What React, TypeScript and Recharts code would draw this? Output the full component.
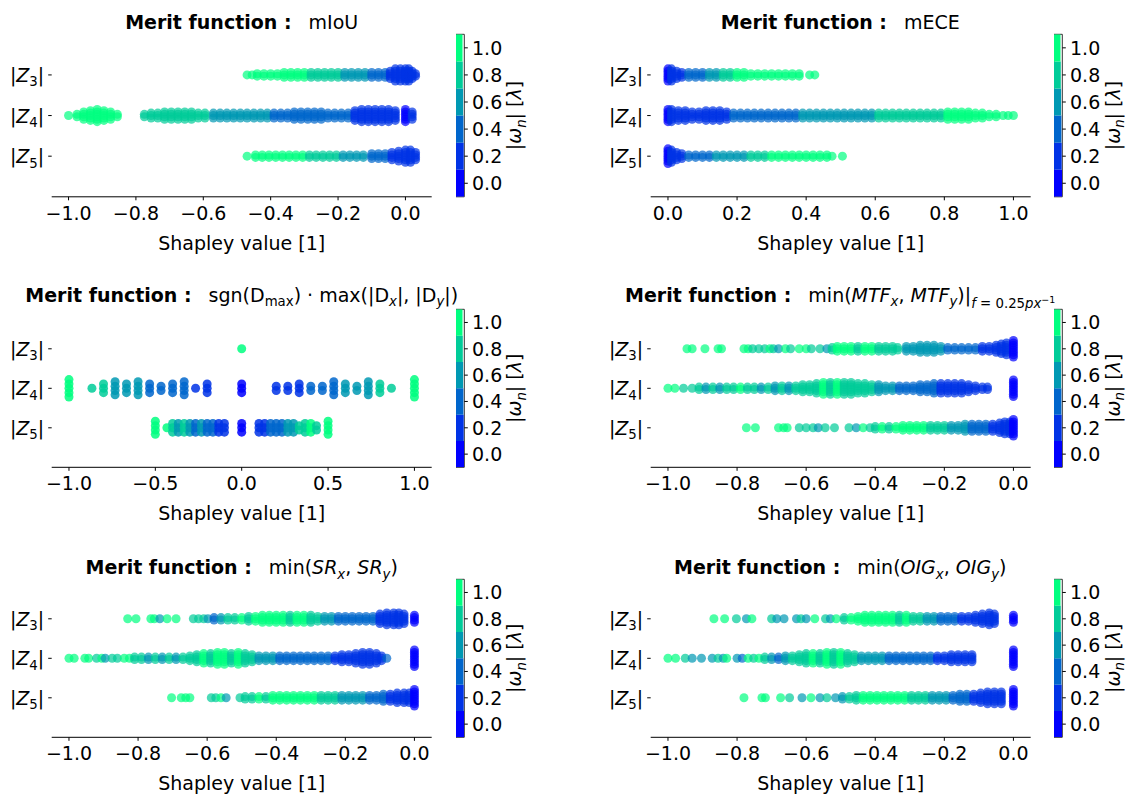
import React from "react";
import {
  ScatterChart,
  Scatter,
  BarChart,
  Bar,
  ReferenceArea,
  XAxis,
  YAxis,
} from "recharts";

// one bin = [shapley value, points stacked at that value, |omega_n| level]
type Bin = [number, number, number];

// winter colormap cut into 6 levels, as on the colorbars
const levelColors = ["#0000ff", "#0033e6", "#0066cc", "#0099b3", "#00cc99", "#00ff80"];
const levelBounds = [-0.1, 0.1, 0.3, 0.5, 0.7, 0.9, 1.1];
const cbarTicks = [0, 0.2, 0.4, 0.6, 0.8, 1.0];
const rowTicks = [0, 1, 2];
const rowIndex = ["5", "4", "3"];

const ticksNeg = [-1.0, -0.8, -0.6, -0.4, -0.2, 0.0];
const ticksPos = [0.0, 0.2, 0.4, 0.6, 0.8, 1.0];
const ticksSym = [-1.0, -0.5, 0.0, 0.5, 1.0];

// ---- mIoU
const miouZ3: Bin[] = [
  [-0.47, 1, 1], [-0.455, 1, 1], [-0.44, 2, 1], [-0.42, 2, 1], [-0.40, 2, 1], [-0.38, 2, 1],
  [-0.36, 3, 1], [-0.34, 3, 1], [-0.32, 3, 1], [-0.30, 3, 1], [-0.28, 3, 0.8], [-0.26, 3, 0.8],
  [-0.24, 3, 0.8], [-0.22, 3, 0.8], [-0.20, 3, 0.8], [-0.18, 3, 0.6], [-0.16, 3, 0.6], [-0.14, 3, 0.6],
  [-0.12, 3, 0.6], [-0.10, 3, 0.4], [-0.08, 3, 0.4], [-0.06, 3, 0.4], [-0.045, 4, 0.2], [-0.03, 6, 0.2],
  [-0.015, 6, 0.2], [0.0, 6, 0.2], [0.01, 6, 0.2], [0.02, 4, 0.2], [0.03, 2, 0.2],
];
const miouZ4: Bin[] = [
  [-1.0, 1, 1], [-0.975, 2, 1], [-0.955, 4, 1], [-0.935, 5, 1], [-0.915, 6, 1], [-0.895, 5, 1],
  [-0.875, 4, 1], [-0.855, 2, 1],
  [-0.775, 2, 0.8], [-0.755, 3, 0.8], [-0.735, 3, 0.8], [-0.715, 4, 0.8], [-0.695, 4, 0.8], [-0.675, 4, 0.8],
  [-0.655, 4, 0.8], [-0.635, 4, 0.8], [-0.615, 3, 0.8], [-0.595, 3, 0.8],
  [-0.57, 3, 0.6], [-0.55, 3, 0.6], [-0.53, 3, 0.6], [-0.51, 3, 0.6], [-0.49, 3, 0.6], [-0.47, 3, 0.6],
  [-0.45, 3, 0.6], [-0.43, 3, 0.6], [-0.41, 3, 0.6], [-0.39, 3, 0.4], [-0.37, 3, 0.4], [-0.35, 3, 0.4],
  [-0.33, 4, 0.4], [-0.31, 4, 0.4], [-0.29, 4, 0.4], [-0.27, 4, 0.4], [-0.25, 4, 0.4], [-0.23, 3, 0.4],
  [-0.21, 3, 0.4], [-0.19, 3, 0.4], [-0.17, 3, 0.4], [-0.15, 5, 0.2], [-0.13, 6, 0.2], [-0.11, 6, 0.2],
  [-0.09, 6, 0.2], [-0.07, 6, 0.2], [-0.05, 6, 0.2], [-0.03, 5, 0.2], [0.0, 6, 0.0], [0.02, 4, 0.2],
];
const miouZ5: Bin[] = [
  [-0.47, 1, 1], [-0.445, 2, 1], [-0.425, 2, 1], [-0.405, 2, 1], [-0.385, 2, 1], [-0.365, 2, 1],
  [-0.345, 2, 1], [-0.325, 2, 1], [-0.305, 2, 1], [-0.285, 2, 0.8], [-0.265, 2, 0.8], [-0.245, 2, 0.8],
  [-0.225, 2, 0.8], [-0.205, 2, 0.8], [-0.185, 2, 0.6], [-0.165, 2, 0.6], [-0.145, 2, 0.6], [-0.125, 2, 0.6],
  [-0.10, 3, 0.4], [-0.08, 3, 0.4], [-0.06, 3, 0.4], [-0.04, 4, 0.2], [-0.02, 5, 0.2], [0.0, 6, 0.2],
  [0.015, 6, 0.2], [0.03, 4, 0.2],
];

// ---- mECE
const meceZ3: Bin[] = [
  [0.0, 6, 0.0], [0.01, 6, 0.2], [0.025, 4, 0.2], [0.04, 3, 0.2], [0.06, 3, 0.4], [0.08, 3, 0.4],
  [0.10, 3, 0.4], [0.12, 3, 0.6], [0.14, 3, 0.6], [0.16, 3, 0.8], [0.18, 3, 0.8], [0.20, 3, 1],
  [0.22, 3, 1], [0.24, 2, 1], [0.26, 2, 1], [0.28, 2, 1], [0.30, 2, 1], [0.32, 2, 1], [0.34, 2, 1],
  [0.36, 2, 1], [0.38, 2, 1], [0.41, 1, 1], [0.425, 1, 1],
];
const meceZ4: Bin[] = [
  [0.0, 6, 0.0], [0.01, 6, 0.2], [0.03, 5, 0.2], [0.05, 5, 0.2], [0.07, 4, 0.2], [0.09, 4, 0.2],
  [0.11, 5, 0.2], [0.13, 5, 0.2], [0.15, 5, 0.2], [0.17, 4, 0.2], [0.19, 3, 0.4], [0.21, 3, 0.4],
  [0.23, 3, 0.4], [0.25, 3, 0.4], [0.27, 3, 0.4], [0.29, 3, 0.4], [0.31, 3, 0.4], [0.33, 3, 0.4],
  [0.35, 3, 0.4], [0.37, 3, 0.4], [0.39, 3, 0.6], [0.41, 3, 0.6], [0.43, 3, 0.6], [0.45, 3, 0.6],
  [0.47, 3, 0.6], [0.49, 3, 0.6], [0.51, 3, 0.6], [0.53, 3, 0.6], [0.55, 3, 0.6], [0.57, 3, 0.6],
  [0.59, 3, 0.6], [0.61, 3, 0.8], [0.63, 3, 0.8], [0.65, 3, 0.8], [0.67, 3, 0.8], [0.69, 3, 0.8],
  [0.71, 3, 0.8], [0.73, 3, 0.8], [0.75, 3, 0.8], [0.77, 3, 0.8], [0.79, 3, 0.8], [0.81, 4, 1],
  [0.83, 4, 1], [0.85, 4, 1], [0.87, 4, 1], [0.89, 3, 1], [0.91, 3, 1], [0.93, 2, 1], [0.95, 2, 1],
  [0.97, 1, 1], [0.985, 1, 1], [1.0, 1, 1],
];
const meceZ5: Bin[] = [
  [0.0, 7, 0.0], [0.01, 6, 0.2], [0.025, 4, 0.2], [0.04, 3, 0.2], [0.06, 2, 0.4], [0.08, 2, 0.4],
  [0.10, 2, 0.4], [0.12, 2, 0.4], [0.14, 2, 0.6], [0.16, 2, 0.6], [0.18, 2, 0.6], [0.20, 2, 0.6],
  [0.22, 2, 0.6], [0.24, 2, 0.8], [0.26, 2, 0.8], [0.28, 2, 0.8], [0.30, 2, 1], [0.32, 2, 1],
  [0.34, 2, 1], [0.36, 2, 1], [0.38, 2, 1], [0.40, 2, 1], [0.42, 2, 1], [0.44, 2, 1], [0.46, 2, 1],
  [0.475, 1, 1], [0.505, 1, 1],
];

// ---- sgn(Dmax) * max(|Dx|, |Dy|)  (discrete values)
const dmaxZ3: Bin[] = [[0.0, 1, 1]];
const dmaxZ4: Bin[] = [
  [-1.0, 5, 1], [-0.867, 1, 0.8], [-0.8, 3, 0.8], [-0.733, 4, 0.6], [-0.667, 3, 0.6], [-0.6, 4, 0.6],
  [-0.533, 3, 0.4], [-0.467, 2, 0.4], [-0.4, 3, 0.4], [-0.333, 4, 0.4], [-0.267, 1, 0.2], [-0.2, 3, 0.2],
  [0.0, 3, 0.0], [0.2, 2, 0.2], [0.267, 2, 0.2], [0.333, 3, 0.2], [0.4, 2, 0.4], [0.467, 2, 0.4],
  [0.533, 4, 0.4], [0.6, 3, 0.6], [0.667, 2, 0.6], [0.733, 4, 0.6], [0.8, 3, 0.8], [0.867, 1, 0.8],
  [1.0, 5, 1],
];
const dmaxZ5: Bin[] = [
  [-0.5, 4, 1], [-0.433, 1, 1], [-0.4, 3, 0.8], [-0.367, 3, 0.6], [-0.333, 3, 0.8], [-0.3, 3, 0.6],
  [-0.267, 3, 0.4], [-0.233, 3, 0.6], [-0.2, 3, 0.4], [-0.167, 3, 0.4], [-0.133, 3, 0.2], [-0.1, 3, 0.2],
  [0.0, 3, 0.0], [0.1, 3, 0.2], [0.133, 3, 0.2], [0.167, 3, 0.4], [0.2, 3, 0.4], [0.233, 3, 0.4],
  [0.267, 3, 0.6], [0.3, 3, 0.6], [0.333, 2, 0.8], [0.367, 3, 0.8], [0.4, 3, 1], [0.433, 2, 0.8],
  [0.5, 4, 1],
];

// ---- min(MTFx, MTFy)
const mtfZ3: Bin[] = [
  [-0.945, 1, 1], [-0.93, 1, 1], [-0.893, 1, 1], [-0.855, 1, 1], [-0.845, 1, 1], [-0.78, 1, 1],
  [-0.768, 1, 1], [-0.755, 1, 0.8], [-0.737, 1, 0.8], [-0.72, 1, 0.8], [-0.705, 1, 1], [-0.695, 1, 0.8],
  [-0.68, 1, 0.6], [-0.66, 1, 1], [-0.645, 1, 0.8], [-0.62, 1, 1], [-0.60, 1, 1], [-0.585, 1, 0.8],
  [-0.56, 1, 0.8], [-0.54, 1, 0.6], [-0.525, 2, 0.8], [-0.51, 3, 1], [-0.49, 3, 1], [-0.47, 3, 1],
  [-0.45, 3, 0.8], [-0.43, 3, 1], [-0.41, 3, 1], [-0.39, 3, 0.8], [-0.37, 3, 0.8], [-0.35, 3, 0.8],
  [-0.335, 2, 0.8], [-0.31, 3, 0.6], [-0.29, 3, 0.6], [-0.27, 4, 0.6], [-0.25, 4, 0.6], [-0.23, 4, 0.6],
  [-0.21, 3, 0.6], [-0.19, 2, 0.4], [-0.17, 2, 0.4], [-0.15, 2, 0.4], [-0.13, 2, 0.4], [-0.11, 2, 0.4],
  [-0.09, 3, 0.2], [-0.07, 3, 0.2], [-0.05, 4, 0.2], [-0.035, 5, 0.2], [-0.02, 6, 0.2], [0.0, 8, 0.0],
];
const mtfZ4: Bin[] = [
  [-1.0, 1, 1], [-0.98, 1, 1], [-0.955, 1, 0.8], [-0.93, 1, 0.8], [-0.91, 2, 0.8], [-0.89, 2, 0.6],
  [-0.87, 2, 0.8], [-0.85, 2, 0.6], [-0.83, 2, 0.8], [-0.81, 2, 0.8], [-0.79, 2, 1], [-0.77, 2, 0.8],
  [-0.75, 2, 0.8], [-0.73, 2, 0.6], [-0.71, 2, 0.8], [-0.69, 3, 0.6], [-0.67, 3, 0.8], [-0.65, 3, 0.6],
  [-0.63, 3, 0.8], [-0.61, 4, 0.8], [-0.59, 4, 0.8], [-0.57, 5, 0.8], [-0.55, 6, 1], [-0.53, 6, 0.8],
  [-0.51, 6, 1], [-0.49, 6, 0.8], [-0.47, 6, 0.8], [-0.45, 5, 0.8], [-0.43, 5, 0.8], [-0.41, 4, 0.8],
  [-0.39, 4, 0.6], [-0.37, 3, 0.6], [-0.35, 3, 0.6], [-0.33, 3, 0.4], [-0.31, 3, 0.4], [-0.29, 3, 0.4],
  [-0.27, 4, 0.4], [-0.25, 4, 0.4], [-0.23, 5, 0.4], [-0.21, 5, 0.2], [-0.19, 5, 0.2], [-0.17, 5, 0.2],
  [-0.15, 5, 0.2], [-0.13, 4, 0.2], [-0.11, 3, 0.2], [-0.09, 2, 0.2], [-0.075, 2, 0.2], [0.0, 8, 0.0],
];
const mtfZ5: Bin[] = [
  [-0.773, 1, 1], [-0.747, 1, 1], [-0.68, 1, 1], [-0.665, 1, 1], [-0.655, 1, 1], [-0.62, 1, 0.8],
  [-0.60, 1, 0.8], [-0.58, 1, 0.8], [-0.565, 1, 0.6], [-0.545, 1, 0.8], [-0.518, 1, 0.8], [-0.476, 1, 0.8],
  [-0.455, 1, 0.6], [-0.435, 1, 1], [-0.415, 1, 0.8], [-0.40, 2, 0.8], [-0.38, 2, 1], [-0.36, 2, 0.8],
  [-0.34, 2, 1], [-0.32, 3, 1], [-0.30, 3, 1], [-0.28, 3, 1], [-0.26, 3, 1], [-0.24, 3, 0.8],
  [-0.22, 3, 0.8], [-0.20, 3, 0.8], [-0.18, 3, 0.6], [-0.16, 3, 0.6], [-0.14, 4, 0.6], [-0.12, 4, 0.4],
  [-0.10, 4, 0.4], [-0.08, 4, 0.4], [-0.06, 4, 0.2], [-0.04, 5, 0.2], [-0.025, 6, 0.2], [-0.01, 6, 0.2],
  [0.0, 8, 0.0],
];

// ---- min(SRx, SRy)
const srZ3: Bin[] = [
  [-0.83, 1, 1], [-0.806, 1, 1], [-0.763, 1, 1], [-0.753, 1, 1], [-0.737, 1, 0.6], [-0.716, 1, 1],
  [-0.69, 1, 1], [-0.64, 1, 0.8], [-0.625, 1, 0.8], [-0.61, 1, 0.8], [-0.598, 1, 0.6], [-0.58, 2, 0.4],
  [-0.56, 2, 0.6], [-0.54, 2, 0.8], [-0.52, 2, 0.8], [-0.50, 2, 1], [-0.48, 3, 0.8], [-0.46, 3, 1],
  [-0.44, 4, 1], [-0.42, 4, 1], [-0.40, 4, 1], [-0.38, 4, 1], [-0.36, 4, 0.8], [-0.34, 4, 1],
  [-0.32, 4, 1], [-0.30, 4, 0.8], [-0.28, 3, 0.8], [-0.26, 3, 0.6], [-0.24, 3, 0.6], [-0.22, 3, 0.4],
  [-0.20, 3, 0.4], [-0.18, 3, 0.4], [-0.16, 3, 0.4], [-0.14, 3, 0.4], [-0.12, 3, 0.4], [-0.10, 5, 0.2],
  [-0.08, 6, 0.2], [-0.06, 6, 0.2], [-0.045, 6, 0.2], [-0.03, 5, 0.2], [0.0, 4, 0.0],
];
const srZ4: Bin[] = [
  [-1.0, 1, 1], [-0.985, 1, 1], [-0.954, 1, 1], [-0.943, 1, 1], [-0.92, 1, 0.8], [-0.905, 1, 1],
  [-0.895, 1, 0.6], [-0.875, 1, 0.8], [-0.86, 1, 0.8], [-0.84, 1, 1], [-0.825, 1, 1], [-0.81, 2, 0.8],
  [-0.79, 2, 0.8], [-0.77, 2, 0.6], [-0.75, 2, 0.8], [-0.73, 2, 0.6], [-0.71, 2, 0.8], [-0.69, 2, 0.6],
  [-0.67, 2, 0.8], [-0.65, 3, 0.8], [-0.63, 4, 0.8], [-0.61, 5, 1], [-0.59, 5, 0.8], [-0.57, 6, 1],
  [-0.55, 6, 1], [-0.53, 5, 0.8], [-0.51, 6, 1], [-0.49, 5, 0.8], [-0.47, 4, 0.8], [-0.45, 3, 0.6],
  [-0.43, 3, 0.6], [-0.41, 3, 0.6], [-0.39, 3, 0.4], [-0.37, 3, 0.4], [-0.35, 3, 0.4], [-0.33, 3, 0.4],
  [-0.31, 3, 0.4], [-0.29, 3, 0.4], [-0.27, 3, 0.4], [-0.25, 3, 0.4], [-0.23, 3, 0.2], [-0.21, 4, 0.2],
  [-0.19, 4, 0.2], [-0.17, 5, 0.2], [-0.15, 6, 0.2], [-0.13, 6, 0.2], [-0.11, 5, 0.2], [-0.095, 3, 0.2],
  [-0.08, 1, 0.4], [0.0, 8, 0.0],
];
const srZ5: Bin[] = [
  [-0.703, 1, 1], [-0.675, 1, 1], [-0.662, 1, 1], [-0.65, 1, 1], [-0.588, 1, 0.8], [-0.575, 1, 0.8],
  [-0.56, 1, 1], [-0.545, 1, 0.6], [-0.505, 1, 0.8], [-0.49, 2, 0.8], [-0.47, 2, 0.8], [-0.45, 2, 1],
  [-0.43, 2, 0.8], [-0.41, 3, 1], [-0.39, 3, 1], [-0.37, 3, 1], [-0.35, 3, 1], [-0.33, 3, 1],
  [-0.31, 3, 1], [-0.29, 3, 1], [-0.27, 3, 0.8], [-0.25, 3, 0.8], [-0.23, 3, 0.8], [-0.21, 3, 0.6],
  [-0.19, 3, 0.6], [-0.17, 3, 0.6], [-0.15, 3, 0.6], [-0.13, 3, 0.4], [-0.11, 3, 0.4], [-0.09, 4, 0.4],
  [-0.07, 4, 0.2], [-0.05, 5, 0.2], [-0.03, 5, 0.2], [-0.015, 5, 0.2], [0.0, 8, 0.0],
];

// ---- min(OIGx, OIGy)
const oigZ3: Bin[] = [
  [-0.867, 1, 1], [-0.836, 1, 1], [-0.802, 1, 0.8], [-0.773, 1, 0.6], [-0.757, 1, 1], [-0.70, 1, 0.8],
  [-0.685, 1, 0.6], [-0.664, 1, 0.6], [-0.628, 1, 0.6], [-0.615, 1, 0.8], [-0.60, 1, 0.6], [-0.575, 1, 1],
  [-0.544, 1, 0.8], [-0.53, 1, 0.6], [-0.513, 1, 1], [-0.49, 2, 0.8], [-0.47, 2, 1], [-0.45, 3, 1],
  [-0.43, 4, 1], [-0.41, 4, 1], [-0.39, 4, 1], [-0.37, 4, 1], [-0.35, 4, 1], [-0.33, 4, 0.8],
  [-0.31, 4, 1], [-0.29, 3, 0.8], [-0.27, 3, 0.8], [-0.25, 3, 0.6], [-0.23, 3, 0.6], [-0.21, 3, 0.4],
  [-0.19, 3, 0.4], [-0.17, 3, 0.4], [-0.15, 3, 0.2], [-0.13, 3, 0.2], [-0.11, 4, 0.2], [-0.09, 5, 0.2],
  [-0.07, 6, 0.2], [-0.055, 5, 0.2], [0.0, 4, 0.0],
];
const oigZ4: Bin[] = [
  [-1.0, 1, 1], [-0.978, 1, 1], [-0.95, 1, 0.8], [-0.93, 1, 0.6], [-0.903, 1, 0.6], [-0.872, 1, 0.6],
  [-0.855, 1, 0.8], [-0.84, 1, 0.6], [-0.83, 1, 1], [-0.80, 1, 0.6], [-0.785, 1, 0.4], [-0.768, 1, 1],
  [-0.752, 1, 0.8], [-0.737, 1, 1], [-0.72, 2, 0.8], [-0.70, 2, 0.6], [-0.68, 2, 0.4], [-0.66, 3, 0.6],
  [-0.64, 3, 0.8], [-0.62, 4, 0.8], [-0.60, 5, 0.8], [-0.58, 5, 1], [-0.56, 5, 0.8], [-0.54, 6, 1],
  [-0.52, 6, 0.8], [-0.50, 6, 1], [-0.48, 5, 0.8], [-0.46, 4, 0.8], [-0.44, 3, 0.6], [-0.42, 3, 0.6],
  [-0.40, 3, 0.6], [-0.38, 3, 0.6], [-0.36, 3, 0.4], [-0.34, 3, 0.4], [-0.32, 3, 0.4], [-0.30, 3, 0.4],
  [-0.28, 3, 0.4], [-0.26, 3, 0.4], [-0.24, 3, 0.4], [-0.22, 3, 0.2], [-0.20, 3, 0.2], [-0.18, 4, 0.2],
  [-0.16, 4, 0.2], [-0.14, 4, 0.2], [-0.12, 4, 0.2], [0.0, 8, 0.0],
];
const oigZ5: Bin[] = [
  [-0.78, 1, 1], [-0.728, 1, 1], [-0.718, 1, 1], [-0.674, 1, 1], [-0.648, 1, 0.8], [-0.612, 1, 0.6],
  [-0.586, 1, 1], [-0.56, 1, 0.6], [-0.54, 1, 0.8], [-0.515, 1, 0.6], [-0.495, 2, 0.6], [-0.475, 2, 0.8],
  [-0.455, 3, 0.8], [-0.435, 3, 1], [-0.415, 3, 1], [-0.395, 3, 1], [-0.375, 3, 1], [-0.355, 3, 1],
  [-0.335, 3, 1], [-0.315, 3, 1], [-0.295, 3, 0.8], [-0.275, 3, 0.8], [-0.255, 3, 0.8], [-0.235, 3, 0.6],
  [-0.215, 3, 0.6], [-0.195, 3, 0.6], [-0.175, 3, 0.4], [-0.155, 4, 0.4], [-0.135, 4, 0.4], [-0.115, 4, 0.2],
  [-0.095, 5, 0.2], [-0.075, 6, 0.2], [-0.055, 6, 0.2], [-0.035, 6, 0.2], [0.0, 8, 0.0],
];

const FS = 19;
const SUB = 13.3;

// title pieces: [text, italic, baseline shift, font size]
type Seg = [string, boolean?, number?, number?];
const formulas: Seg[][] = [
  [["mIoU"]],
  [["mECE"]],
  [["sgn(D"], ["max", false, 4.5, SUB], [") · max(|D"], ["x", true, 4.5, SUB], ["|, |D"], ["y", true, 4.5, SUB], ["|)"]],
  [
    ["min("], ["MTF", true], ["x", true, 4.5, SUB], [", "], ["MTF", true], ["y", true, 4.5, SUB], [")|"],
    ["f", true, 6, SUB], [" = 0.25", false, 6, SUB], ["px", true, 6, SUB], ["−1", false, 1, 9.5],
  ],
  [["min("], ["SR", true], ["x", true, 4.5, SUB], [", "], ["SR", true], ["y", true, 4.5, SUB], [")"]],
  [["min("], ["OIG", true], ["x", true, 4.5, SUB], [", "], ["OIG", true], ["y", true, 4.5, SUB], [")"]],
];

interface Panel {
  col: number;
  row: number;
  domain: [number, number];
  ticks: number[];
  rows: Bin[][];
  step: number;
  alpha: number;
}

const panels: Panel[] = [
  { col: 0, row: 0, domain: [-1.05, 0.078], ticks: ticksNeg, rows: [miouZ5, miouZ4, miouZ3], step: 0.06, alpha: 0.7 },
  { col: 1, row: 0, domain: [-0.05, 1.05], ticks: ticksPos, rows: [meceZ5, meceZ4, meceZ3], step: 0.06, alpha: 0.7 },
  { col: 0, row: 1, domain: [-1.1, 1.1], ticks: ticksSym, rows: [dmaxZ5, dmaxZ4, dmaxZ3], step: 0.11, alpha: 0.85 },
  { col: 1, row: 1, domain: [-1.05, 0.05], ticks: ticksNeg, rows: [mtfZ5, mtfZ4, mtfZ3], step: 0.06, alpha: 0.7 },
  { col: 0, row: 2, domain: [-1.05, 0.05], ticks: ticksNeg, rows: [srZ5, srZ4, srZ3], step: 0.06, alpha: 0.7 },
  { col: 1, row: 2, domain: [-1.05, 0.05], ticks: ticksNeg, rows: [oigZ5, oigZ4, oigZ3], step: 0.06, alpha: 0.7 },
];

const cbarData = [
  Object.fromEntries(levelColors.map((_, i) => [`b${i}`, [levelBounds[i], levelBounds[i + 1]]])),
];

const COL_DX = 598.5;
const ROW_DY = 270;
const CH = 260;
const plotTop = (row: number) => (row === 0 ? 34.3 : 39.3);
const plotH = (row: number) => (row === 0 ? 162.5 : 158);

const fmt = (v: number) => v.toFixed(1).replace("-", "\u2212");
const shade = (c: number) => levelColors[Math.round(c * 5)];

// stack the points of each bin vertically around its row, beeswarm style
function stack(bins: Bin[], row: number, step: number) {
  const out: { x: number; y: number; c: number }[] = [];
  bins.forEach(([x, n, c]) => {
    for (let i = 0; i < n; i++) out.push({ x, y: row + (i - (n - 1) / 2) * step, c });
  });
  return out;
}

function mathSpans(segs: Seg[]) {
  let cur = 0;
  return segs.map(([t, ital, shift = 0, size = FS], k) => {
    const dy = shift - cur;
    cur = shift;
    return (
      <tspan
        key={k}
        dx={k === 0 ? 17 : undefined}
        dy={dy || undefined}
        fontStyle={ital ? "italic" : undefined}
        fontSize={size}
      >
        {t}
      </tspan>
    );
  });
}

function ZTick({ x, y, payload }: any) {
  return (
    <text x={x} y={y} dy={7} textAnchor="end" fontSize={FS} fill="#000">
      |<tspan fontStyle="italic">Z</tspan>
      <tspan fontSize={SUB} dy={4.5}>{rowIndex[payload.value]}</tspan>
      <tspan dy={-4.5}>|</tspan>
    </text>
  );
}

function SwarmPanel({ p }: { p: Panel }) {
  const pts = p.rows.flatMap((bins, i) => stack(bins, i, p.step));
  const top = plotTop(p.row);
  return (
    <div style={{ position: "absolute", left: p.col * COL_DX, top: p.row * ROW_DY }}>
      <ScatterChart width={450} height={CH} margin={{ top, right: 18.3, bottom: 0, left: 0 }}>
        <XAxis
          type="number"
          dataKey="x"
          domain={p.domain}
          ticks={p.ticks}
          tickFormatter={fmt}
          allowDataOverflow
          interval={0}
          axisLine={{ stroke: "#000" }}
          tickLine={{ stroke: "#000" }}
          tickSize={3.5}
          tickMargin={5.8}
          tick={{ fontSize: FS, fill: "#000" }}
          height={CH - top - plotH(p.row)}
          label={{ value: "Shapley value [1]", position: "insideBottom", offset: 10, fontSize: FS, fill: "#000" }}
        />
        <YAxis
          type="number"
          dataKey="y"
          domain={[-1, 3]}
          ticks={rowTicks}
          interval={0}
          axisLine={false}
          tickLine={{ stroke: "#000" }}
          tickSize={3.5}
          tickMargin={4}
          width={51.7}
          tick={<ZTick />}
        />
        <Scatter
          data={pts}
          isAnimationActive={false}
          shape={(d: any) => (
            <circle cx={d.cx} cy={d.cy} r={4.5} fill={shade(d.payload.c)} fillOpacity={p.alpha} />
          )}
        />
      </ScatterChart>
    </div>
  );
}

function Colorbar({ col, row }: { col: number; row: number }) {
  const top = plotTop(row);
  return (
    <div style={{ position: "absolute", left: 455.7 + col * COL_DX, top: row * ROW_DY }}>
      <BarChart
        width={120}
        height={CH}
        data={cbarData}
        barCategoryGap={0}
        barGap="-100%"
        margin={{ top, right: 0, bottom: CH - top - plotH(row), left: 0 }}
      >
        <XAxis hide height={0} />
        <YAxis
          type="number"
          orientation="right"
          domain={[-0.1, 1.1]}
          allowDataOverflow
          ticks={cbarTicks}
          interval={0}
          tickFormatter={(v: number) => v.toFixed(1)}
          axisLine={false}
          tickLine={{ stroke: "#000" }}
          tickSize={3.5}
          tickMargin={4.2}
          tick={{ fontSize: FS, fill: "#000" }}
          width={111.7}
        />
        {levelColors.map((c, i) => (
          <Bar key={c} dataKey={`b${i}`} fill={c} isAnimationActive={false} />
        ))}
        <ReferenceArea y1={-0.1} y2={1.1} fill="none" stroke="#333" strokeWidth={1} ifOverflow="visible" />
      </BarChart>
    </div>
  );
}

export default function App() {
  const titleBase = [29.3, 301.7, 574];
  return (
    <div
      style={{
        position: "absolute",
        left: 0,
        top: 0,
        width: 1126,
        height: 800,
        background: "#fff",
        fontFamily: "'DejaVu Sans', sans-serif",
      }}
    >
      {panels.map((p, i) => (
        <React.Fragment key={i}>
          <SwarmPanel p={p} />
          <Colorbar col={p.col} row={p.row} />
        </React.Fragment>
      ))}
      <svg width={1126} height={800} style={{ position: "absolute", left: 0, top: 0, pointerEvents: "none" }}>
        {panels.map((p, i) => (
          <text key={"t" + i} x={241.7 + p.col * COL_DX} y={titleBase[p.row]} textAnchor="middle" fontSize={FS} fill="#000">
            <tspan fontWeight="bold">Merit function :</tspan>
            {mathSpans(formulas[i])}
          </text>
        ))}
        {panels.map((p, i) => {
          const cx = 515 + p.col * COL_DX;
          const cy = plotTop(p.row) + plotH(p.row) / 2 + p.row * ROW_DY;
          return (
            <text key={"c" + i} transform={`translate(${cx},${cy}) rotate(-90)`} x={0} y={6} textAnchor="middle" fontSize={FS} fill="#000">
              |<tspan fontStyle="italic">ω</tspan>
              <tspan fontSize={SUB} dy={4.5} fontStyle="italic">n</tspan>
              <tspan dy={-4.5}>| [</tspan>
              <tspan fontStyle="italic">λ</tspan>]
            </text>
          );
        })}
      </svg>
    </div>
  );
}
